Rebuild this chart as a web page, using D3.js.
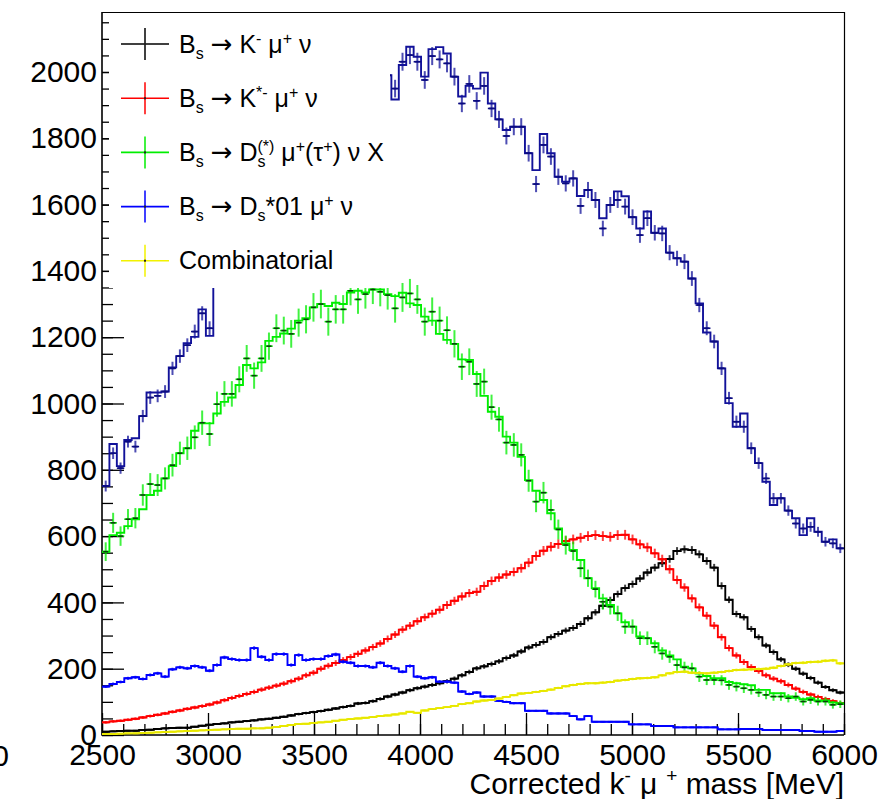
<!DOCTYPE html>
<html>
<head>
<meta charset="utf-8">
<script src="https://cdn.jsdelivr.net/npm/d3@7"></script>
<style>
    body { margin: 0; background: #fff; }
    svg { display: block; font-family: "Liberation Sans", Arial, Helvetica, sans-serif; }
</style>
</head>
<body>
<div id="chart"></div>
<script>
// x axis range, 100 bins of 35 MeV
const massMin = 2500, massMax = 6000, nBins = 100;
const xTicks = [2500, 3000, 3500, 4000, 4500, 5000, 5500, 6000];
const yTicks = [0, 200, 400, 600, 800, 1000, 1200, 1400, 1600, 1800, 2000];

// Bs -> K- mu nu (black)
const kMuNu = [10, 11, 12, 13, 13, 15, 16, 18, 20, 21,
    22, 22, 25, 28, 31, 33, 35, 38, 40, 42,
    44, 47, 49, 52, 55, 59, 63, 66, 69, 72,
    76, 80, 84, 88, 95, 97, 102, 109, 116, 122,
    128, 135, 141, 146, 151, 156, 162, 170, 180, 190,
    201, 207, 214, 222, 232, 240, 252, 264, 272, 281,
    295, 305, 315, 323, 335, 352, 370, 390, 407, 425,
    443, 455, 472, 490, 505, 518, 531, 555, 560, 558,
    545, 525, 505, 450, 408, 365, 355, 320, 295, 270,
    250, 228, 212, 200, 185, 172, 158, 145, 135, 128];

// Bs -> K*- mu nu (red)
const kStarMuNu = [38, 41, 43, 46, 49, 53, 57, 61, 65, 70,
    74, 79, 83, 87, 92, 98, 105, 112, 118, 124,
    130, 137, 143, 149, 155, 162, 170, 180, 188, 200,
    209, 217, 226, 235, 245, 255, 265, 276, 290, 303,
    318, 330, 343, 355, 366, 378, 392, 405, 418, 428,
    432, 450, 465, 475, 484, 492, 503, 520, 540, 556,
    568, 576, 585, 590, 595, 600, 603, 600, 598, 603,
    604, 590, 575, 566, 548, 530, 500, 468, 445, 412,
    385, 360, 330, 295, 262, 240, 220, 205, 193, 180,
    170, 162, 151, 140, 130, 122, 115, 109, 102, 96];

// Bs -> Ds(*) mu (tau) nu X (green): histogram and points
const dsMuNuHist = [553, 603, 610, 630, 651, 681, 724, 737, 774, 811,
    850, 865, 918, 940, 940, 970, 1005, 1018, 1056, 1116,
    1106, 1124, 1189, 1201, 1211, 1226, 1250, 1257, 1290, 1300,
    1294, 1304, 1300, 1335, 1340, 1335, 1344, 1344, 1330, 1324,
    1334, 1302, 1297, 1262, 1250, 1210, 1192, 1180, 1133, 1131,
    1089, 1023, 975, 960, 900, 882, 839, 769, 737, 709,
    669, 623, 578, 558, 528, 473, 443, 412, 392, 367,
    340, 327, 297, 292, 277, 255, 240, 228, 206, 201,
    185, 178, 171, 171, 160, 156, 153, 150, 136, 136,
    126, 126, 116, 112, 108, 111, 104, 104, 98, 96];
const dsMuNuPts = [553, 640, 600, 651, 654, 724, 757, 754, 774, 814,
    850, 865, 898, 942, 908, 998, 1029, 1029, 1073, 1136,
    1084, 1136, 1173, 1227, 1220, 1210, 1244, 1254, 1290, 1300,
    1247, 1284, 1284, 1340, 1314, 1330, 1344, 1337, 1327, 1287,
    1320, 1332, 1314, 1247, 1277, 1250, 1221, 1180, 1111, 1126,
    1059, 1066, 989, 952, 882, 875, 845, 767, 704, 731,
    679, 620, 573, 555, 503, 473, 440, 402, 387, 367,
    327, 327, 292, 292, 266, 246, 236, 211, 204, 201,
    176, 166, 166, 165, 151, 146, 141, 136, 128, 121,
    116, 116, 111, 116, 101, 106, 101, 101, 91, 93];

// Bs -> Ds*01 mu nu (blue)
const ds01MuNu = [146, 154, 160, 171, 174, 169, 181, 186, 176, 198,
    204, 201, 208, 204, 194, 211, 234, 229, 226, 226,
    262, 236, 226, 244, 244, 211, 241, 226, 229, 229,
    238, 243, 221, 218, 208, 208, 204, 218, 208, 201,
    191, 208, 176, 171, 174, 161, 161, 158, 131, 124,
    128, 116, 116, 103, 100, 96, 96, 73, 73, 73,
    65, 65, 65, 57, 47, 57, 40, 40, 40, 40,
    40, 32, 32, 32, 27, 27, 27, 23, 23, 23,
    23, 23, 23, 17, 17, 17, 18, 18, 18, 15,
    15, 15, 15, 15, 12, 12, 10, 10, 10, 12];

// Combinatorial (yellow)
const combinatorial = [3, 3, 4, 5, 5, 6, 7, 8, 9, 10,
    11, 12, 13, 14, 15, 16, 17, 18, 19, 19,
    20, 20, 22, 24, 27, 30, 33, 34, 36, 38,
    40, 43, 46, 48, 50, 52, 54, 57, 59, 62,
    65, 70, 67, 74, 78, 81, 84, 88, 93, 96,
    101, 104, 106, 110, 115, 120, 125, 127, 130, 133,
    137, 142, 147, 151, 154, 156, 156, 158, 160, 164,
    166, 169, 171, 172, 174, 180, 186, 190, 191, 188,
    187, 186, 188, 190, 193, 196, 197, 198, 199, 200,
    203, 208, 213, 217, 218, 220, 221, 224, 225, 216];

// total (dark blue): histogram and points
const totalHist = [751, 878, 811, 890, 895, 962, 1033, 1033, 1036, 1109,
    1143, 1182, 1201, 1284, 1204, 1380, 1400, 1430, 1460, 1540,
    1560, 1580, 1620, 1660, 1680, 1690, 1730, 1760, 1790, 1810,
    1830, 1850, 1850, 1900, 1910, 1920, 1950, 1960, 1990, 1917,
    2021, 2076, 2046, 1986, 2069, 2075, 2056, 1986, 1926, 1958,
    1950, 1998, 1905, 1857, 1825, 1835, 1835, 1755, 1704, 1813,
    1755, 1684, 1669, 1679, 1626, 1644, 1614, 1559, 1599, 1640,
    1625, 1562, 1528, 1579, 1515, 1528, 1455, 1438, 1428, 1377,
    1302, 1214, 1187, 1106, 1001, 930, 970, 865, 820, 764,
    694, 714, 677, 654, 603, 654, 613, 583, 590, 563];
const totalPts = [751, 850, 805, 885, 870, 962, 1018, 1023, 1036, 1106,
    1143, 1176, 1217, 1272, 1227, 1380, 1400, 1430, 1460, 1540,
    1560, 1580, 1620, 1660, 1680, 1690, 1730, 1760, 1790, 1810,
    1830, 1850, 1850, 1900, 1910, 1920, 1950, 1960, 1990, 1950,
    2031, 2051, 2031, 1976, 2048, 2038, 2026, 1986, 1905, 1964,
    1913, 1958, 1890, 1857, 1807, 1835, 1835, 1755, 1662, 1780,
    1745, 1684, 1664, 1679, 1596, 1644, 1614, 1528, 1599, 1614,
    1594, 1562, 1508, 1559, 1515, 1513, 1455, 1438, 1428, 1377,
    1297, 1227, 1187, 1106, 1016, 945, 930, 865, 820, 774,
    714, 714, 677, 638, 623, 628, 613, 583, 578, 563];

// legend labels: [text, kind]
const legendLabels = [
    [["B"], ["s", "sub"], [" "], ["\u2192", "arrow"], [" K"], ["-", "sup"], [" \u03bc"], ["+", "sup"], [" \u03bd"]],
    [["B"], ["s", "sub"], [" "], ["\u2192", "arrow"], [" K"], ["*-", "sup"], [" \u03bc"], ["+", "sup"], [" \u03bd"]],
    [["B"], ["s", "sub"], [" "], ["\u2192", "arrow"], [" D"], ["(*)", "sup"], ["s", "subback"], [" \u03bc"], ["+", "sup"], ["(\u03c4"], ["+", "sup"], [") \u03bd X"]],
    [["B"], ["s", "sub"], [" "], ["\u2192", "arrow"], [" D"], ["s", "sub"], ["*01 \u03bc"], ["+", "sup"], [" \u03bd"]],
    [["Combinatorial"]]
];

class HistVis {
    constructor(_parentElement) {
        this.parentElement = _parentElement;

        // draw order, total first
        this.series = [
            { key: "total", hist: totalHist, pts: totalPts, color: "#12129a", err: 0.6, hbar: "#0a0a80" },
            { key: "k", hist: kMuNu, pts: kMuNu, color: "#000000", err: 0.5, hbar: "#000000" },
            { key: "kstar", hist: kStarMuNu, pts: kStarMuNu, color: "#ff0000", err: 0.6, hbar: "#ff0000" },
            { key: "ds", hist: dsMuNuHist, pts: dsMuNuPts, color: "#00ee00", err: 1.2, hbar: "#00ee00" },
            { key: "ds01", hist: ds01MuNu, pts: ds01MuNu, color: "#0000ff", err: 0.35, hbar: "#0000ff" },
            { key: "comb", hist: combinatorial, pts: combinatorial, color: "#f2f200", err: 0.3, hbar: "#e6e600" }
        ];
        this.legendColors = ["#000000", "#ff0000", "#00ee00", "#0000ff", "#f2f200"];

        this.initVis();
    }

    initVis() {
        let vis = this;

        vis.width = 889;
        vis.height = 799;
        vis.plot = { left: 102, right: 844, top: 12, bottom: 735 };

        vis.svg = d3.select("#" + vis.parentElement).append("svg")
            .attr("width", vis.width)
            .attr("height", vis.height);

        vis.x = d3.scaleLinear().domain([massMin, massMax]).range([vis.plot.left, vis.plot.right]);
        vis.y = d3.scaleLinear().domain([0, 2181]).range([vis.plot.bottom, vis.plot.top]);

        vis.binW = (massMax - massMin) / nBins;
        vis.edges = d3.range(nBins + 1).map(i => massMin + i * vis.binW);

        vis.svg.append("clipPath").attr("id", "plot-clip")
            .append("rect")
            .attr("x", vis.plot.left).attr("y", vis.plot.top)
            .attr("width", vis.plot.right - vis.plot.left)
            .attr("height", vis.plot.bottom - vis.plot.top);

        vis.drawAxes();

        vis.dataGroup = vis.svg.append("g").attr("clip-path", "url(#plot-clip)");
        vis.series.forEach(s => vis.drawHist(s));

        vis.drawLegend();

        // frame top / right
        vis.svg.append("path")
            .attr("d", `M${vis.plot.left},${vis.plot.top + 0.5}H${vis.plot.right + 0.5}V${vis.plot.bottom}`)
            .attr("fill", "none").attr("stroke", "#000").attr("stroke-width", 1.2);
    }

    drawAxes() {
        let vis = this;

        let styleAxis = g => {
            g.attr("font-family", null).attr("font-size", null);
            g.select(".domain").remove();
            g.selectAll("line").attr("stroke", "#000").attr("stroke-width", 1.3);
            g.selectAll("text").attr("fill", "#000").style("font-size", "30px");
        };

        // minor ticks
        vis.svg.append("g")
            .attr("transform", `translate(${vis.plot.left},0)`)
            .call(d3.axisLeft(vis.y).tickValues(d3.range(0, 2151, 50)).tickSizeInner(-11).tickSizeOuter(0).tickFormat(""))
            .call(styleAxis);
        vis.svg.append("g")
            .attr("transform", `translate(0,${vis.plot.bottom})`)
            .call(d3.axisBottom(vis.x).tickValues(d3.range(massMin, massMax + 1, 100)).tickSizeInner(-11).tickSizeOuter(0).tickFormat(""))
            .call(styleAxis);

        // major ticks + labels
        vis.svg.append("g")
            .attr("transform", `translate(${vis.plot.left},0)`)
            .call(d3.axisLeft(vis.y).tickValues(yTicks).tickSizeInner(-22).tickSizeOuter(0).tickPadding(5).tickFormat(d3.format("d")))
            .call(styleAxis);
        vis.svg.append("g")
            .attr("transform", `translate(0,${vis.plot.bottom})`)
            .call(d3.axisBottom(vis.x).tickValues(xTicks).tickSizeInner(-22).tickSizeOuter(0).tickPadding(9).tickFormat(d3.format("d")))
            .call(styleAxis);

        // axis lines
        vis.svg.append("path")
            .attr("d", `M${vis.plot.left},${vis.plot.top}V${vis.plot.bottom}H${vis.plot.right}`)
            .attr("fill", "none").attr("stroke", "#000").attr("stroke-width", 1.6);

        // stray label cut at the left border
        vis.svg.append("text")
            .attr("x", 9).attr("y", 766)
            .attr("text-anchor", "end")
            .style("font-size", "30px")
            .text("0");

        // axis title
        let title = vis.svg.append("text")
            .attr("x", vis.plot.right).attr("y", 794)
            .attr("text-anchor", "end")
            .style("font-size", "30px");
        title.append("tspan").text("Corrected k");
        title.append("tspan").attr("dy", -12).style("font-size", "19px").text("-");
        title.append("tspan").attr("dy", 12).attr("dx", 9).text("\u03bc");
        title.append("tspan").attr("dy", -12).attr("dx", 9).style("font-size", "19px").text("+");
        title.append("tspan").attr("dy", 12).text(" mass [MeV]");
    }

    drawHist(s) {
        let vis = this;
        let g = vis.dataGroup.append("g").attr("class", "hist-" + s.key);

        let stepData = s.hist.map((v, i) => [vis.edges[i], v]);
        stepData.push([vis.edges[nBins], s.hist[nBins - 1]]);

        let line = d3.line()
            .x(d => vis.x(d[0]))
            .y(d => vis.y(d[1]))
            .curve(d3.curveStepAfter);

        g.append("path")
            .datum(stepData)
            .attr("fill", "none")
            .attr("stroke", s.color)
            .attr("stroke-width", 1.9)
            .attr("d", line);

        let pts = s.pts.map((v, i) => ({ lo: vis.edges[i], hi: vis.edges[i + 1], v: v, e: s.err * Math.sqrt(v) }));

        // vertical error bars
        g.selectAll(".ebar").data(pts).enter().append("line")
            .attr("class", "ebar")
            .attr("x1", d => vis.x((d.lo + d.hi) / 2))
            .attr("x2", d => vis.x((d.lo + d.hi) / 2))
            .attr("y1", d => vis.y(d.v - d.e))
            .attr("y2", d => vis.y(d.v + d.e))
            .attr("stroke", s.color)
            .attr("stroke-opacity", 0.75)
            .attr("stroke-width", 2);

        // horizontal bars across the bin
        g.selectAll(".hbar").data(pts).enter().append("line")
            .attr("class", "hbar")
            .attr("x1", d => vis.x(d.lo))
            .attr("x2", d => vis.x(d.hi))
            .attr("y1", d => vis.y(d.v))
            .attr("y2", d => vis.y(d.v))
            .attr("stroke", s.hbar)
            .attr("stroke-width", 1.6);

        // small dark markers
        g.selectAll(".mark").data(pts).enter().append("line")
            .attr("class", "mark")
            .attr("x1", d => vis.x((d.lo + d.hi) / 2) - 2.5)
            .attr("x2", d => vis.x((d.lo + d.hi) / 2) + 2.5)
            .attr("y1", d => vis.y(d.v))
            .attr("y2", d => vis.y(d.v))
            .attr("stroke", s.key === "ds" ? "#0d3d0d" : s.hbar)
            .attr("stroke-width", 1.6);
    }

    drawLegend() {
        let vis = this;

        vis.svg.append("rect")
            .attr("x", 109).attr("y", 13)
            .attr("width", 390 - 109).attr("height", 288 - 13)
            .attr("fill", "#fff");

        let rowY = [44, 98.3, 152.4, 206.6, 260.7];

        legendLabels.forEach((parts, i) => {
            let cy = rowY[i];
            let col = vis.legendColors[i];

            vis.svg.append("line")
                .attr("x1", 121).attr("x2", 169).attr("y1", cy).attr("y2", cy)
                .attr("stroke", col).attr("stroke-width", 1.6);
            vis.svg.append("line")
                .attr("x1", 145).attr("x2", 145).attr("y1", cy - 16).attr("y2", cy + 16)
                .attr("stroke", col).attr("stroke-opacity", 0.75).attr("stroke-width", 2);
            vis.svg.append("rect")
                .attr("x", 144).attr("y", cy - 1).attr("width", 2).attr("height", 2)
                .attr("fill", "#222");

            let text = vis.svg.append("text")
                .attr("x", 179).attr("y", cy + 8.5)
                .style("font-size", "25px");

            let shift = 0;
            let lastSup = null;
            let carry = 0;
            parts.forEach(p => {
                let kind = p[1] || "normal";
                let ts = text.append("tspan").text(p[0]);
                if (kind === "sub") {
                    ts.attr("dy", 6 - shift).style("font-size", "16px");
                    shift = 6;
                } else if (kind === "sup") {
                    ts.attr("dy", -9 - shift).style("font-size", "16px");
                    shift = -9;
                    lastSup = ts;
                } else if (kind === "subback") {
                    let w = lastSup.node().getComputedTextLength();
                    ts.attr("dy", 6 - shift).attr("dx", -w).style("font-size", "16px");
                    shift = 6;
                    carry = w - ts.node().getComputedTextLength();
                } else {
                    ts.attr("dy", -shift);
                    if (kind === "arrow") ts.style("font-family", "'DejaVu Sans', sans-serif").style("font-size", "26px");
                    if (carry > 0) ts.attr("dx", carry);
                    carry = 0;
                    shift = 0;
                }
            });
        });
    }
}

new HistVis("chart");
</script>
</body>
</html>
